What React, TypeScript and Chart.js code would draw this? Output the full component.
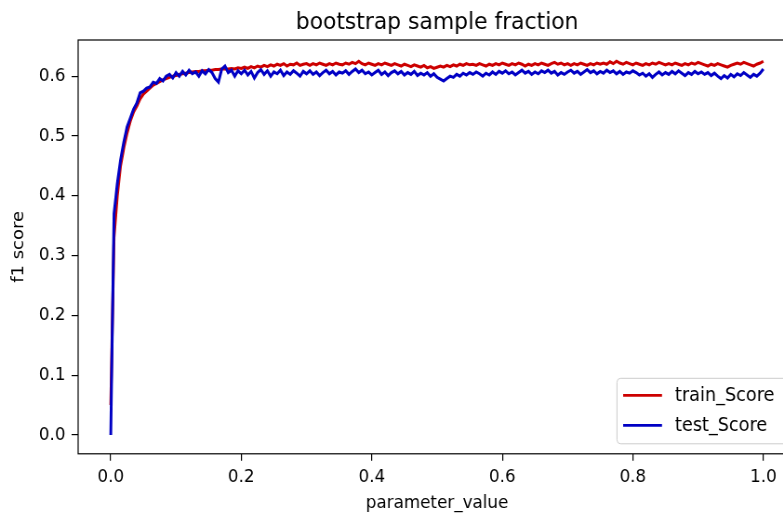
import React, { useEffect, useRef } from "react";
import { Chart, registerables } from "chart.js";

Chart.register(...registerables);

const titleText = "bootstrap sample fraction";
const xLabel = "parameter_value";
const yLabel = "f1 score";
const seriesLabels = ["train_Score", "test_Score"];
const seriesColors = ["#cc0000", "#0000c4"];
const xTicks = [0, 0.2, 0.4, 0.6, 0.8, 1.0];
const yTicks = [0, 0.1, 0.2, 0.3, 0.4, 0.5, 0.6];

const xValues = [
  0, 0.005, 0.01, 0.015, 0.02, 0.025, 0.03, 0.035, 0.04, 0.045,
  0.05, 0.055, 0.06, 0.065, 0.07, 0.075, 0.08, 0.085, 0.09, 0.095,
  0.1, 0.105, 0.11, 0.115, 0.12, 0.125, 0.13, 0.135, 0.14, 0.145,
  0.15, 0.155, 0.16, 0.165, 0.17, 0.175, 0.18, 0.185, 0.19, 0.195,
  0.2, 0.205, 0.21, 0.215, 0.22, 0.225, 0.23, 0.235, 0.24, 0.245,
  0.25, 0.255, 0.26, 0.265, 0.27, 0.275, 0.28, 0.285, 0.29, 0.295,
  0.3, 0.305, 0.31, 0.315, 0.32, 0.325, 0.33, 0.335, 0.34, 0.345,
  0.35, 0.355, 0.36, 0.365, 0.37, 0.375, 0.38, 0.385, 0.39, 0.395,
  0.4, 0.405, 0.41, 0.415, 0.42, 0.425, 0.43, 0.435, 0.44, 0.445,
  0.45, 0.455, 0.46, 0.465, 0.47, 0.475, 0.48, 0.485, 0.49, 0.495,
  0.5, 0.505, 0.51, 0.515, 0.52, 0.525, 0.53, 0.535, 0.54, 0.545,
  0.55, 0.555, 0.56, 0.565, 0.57, 0.575, 0.58, 0.585, 0.59, 0.595,
  0.6, 0.605, 0.61, 0.615, 0.62, 0.625, 0.63, 0.635, 0.64, 0.645,
  0.65, 0.655, 0.66, 0.665, 0.67, 0.675, 0.68, 0.685, 0.69, 0.695,
  0.7, 0.705, 0.71, 0.715, 0.72, 0.725, 0.73, 0.735, 0.74, 0.745,
  0.75, 0.755, 0.76, 0.765, 0.77, 0.775, 0.78, 0.785, 0.79, 0.795,
  0.8, 0.805, 0.81, 0.815, 0.82, 0.825, 0.83, 0.835, 0.84, 0.845,
  0.85, 0.855, 0.86, 0.865, 0.87, 0.875, 0.88, 0.885, 0.89, 0.895,
  0.9, 0.905, 0.91, 0.915, 0.92, 0.925, 0.93, 0.935, 0.94, 0.945,
  0.95, 0.955, 0.96, 0.965, 0.97, 0.975, 0.98, 0.985, 0.99, 0.995,
  1.0,
];

const trainScore = [
  0.05, 0.33, 0.40, 0.45, 0.48, 0.505, 0.525, 0.54, 0.55, 0.562,
  0.57, 0.575, 0.58, 0.585, 0.588, 0.591, 0.594, 0.596, 0.598, 0.60,
  0.601, 0.603, 0.604, 0.605, 0.606, 0.607, 0.608, 0.608, 0.609, 0.609,
  0.610, 0.610, 0.611, 0.611, 0.612, 0.612, 0.612, 0.613, 0.612, 0.614,
  0.613,
  0.615, 0.613, 0.616, 0.614, 0.617, 0.615, 0.618, 0.616, 0.619, 0.617,
  0.620, 0.618, 0.621, 0.617, 0.620, 0.619, 0.622, 0.618, 0.620, 0.621,
  0.618, 0.621, 0.619, 0.622, 0.620, 0.618, 0.621, 0.619, 0.622, 0.620,
  0.619, 0.622, 0.620, 0.623, 0.621, 0.625, 0.621, 0.619, 0.622, 0.620,
  0.618, 0.621, 0.619, 0.622, 0.620, 0.618, 0.621, 0.619, 0.617, 0.620,
  0.618, 0.616, 0.619, 0.617, 0.615, 0.618, 0.614, 0.616, 0.613, 0.615,
  0.617, 0.615, 0.618, 0.616, 0.619, 0.617, 0.620, 0.618, 0.621, 0.619,
  0.620, 0.618, 0.621, 0.619, 0.617, 0.620, 0.618, 0.621, 0.619, 0.622,
  0.620, 0.618, 0.621, 0.619, 0.622, 0.620, 0.617, 0.620, 0.618, 0.621,
  0.619, 0.622, 0.620, 0.618, 0.621, 0.623, 0.620, 0.622, 0.619, 0.621,
  0.618, 0.621, 0.619, 0.622, 0.620, 0.618, 0.621, 0.619, 0.622, 0.620,
  0.622, 0.620, 0.624, 0.621, 0.625, 0.622, 0.620, 0.623, 0.621, 0.619,
  0.622, 0.620, 0.618, 0.621, 0.619, 0.622, 0.620, 0.623, 0.621, 0.619,
  0.621, 0.619, 0.622, 0.620, 0.618, 0.621, 0.619, 0.622, 0.620, 0.623,
  0.621, 0.619, 0.617, 0.620, 0.618, 0.621, 0.619, 0.617, 0.615, 0.618,
  0.620, 0.622, 0.620, 0.623, 0.621, 0.619, 0.617, 0.620, 0.622, 0.625,
];

const testScore = [
  0.00, 0.37, 0.42, 0.46, 0.49, 0.515, 0.53, 0.545, 0.555, 0.572,
  0.575, 0.58, 0.582, 0.59, 0.588, 0.596, 0.592, 0.60, 0.603, 0.597,
  0.606, 0.60, 0.608, 0.602, 0.61, 0.604, 0.607, 0.60, 0.609, 0.604,
  0.611, 0.606, 0.596, 0.59, 0.612, 0.617, 0.606, 0.61, 0.60, 0.609,
  0.604,
  0.610, 0.602, 0.608, 0.597, 0.606, 0.611, 0.603, 0.609, 0.600, 0.607,
  0.604, 0.610, 0.601, 0.607, 0.603, 0.609, 0.605, 0.600, 0.608, 0.604,
  0.609, 0.603, 0.607, 0.601, 0.606, 0.610, 0.604, 0.608, 0.602, 0.607,
  0.605, 0.609, 0.603, 0.608, 0.612, 0.606, 0.610, 0.604, 0.607, 0.602,
  0.606, 0.610, 0.603, 0.607, 0.601, 0.606, 0.609, 0.604, 0.608, 0.602,
  0.606, 0.603, 0.608, 0.601, 0.605, 0.602, 0.606, 0.600, 0.604, 0.598,
  0.595, 0.592, 0.596, 0.600, 0.598, 0.603, 0.600, 0.605, 0.602, 0.606,
  0.603, 0.607, 0.604, 0.600, 0.605, 0.602, 0.607, 0.603, 0.608, 0.605,
  0.609, 0.604, 0.607, 0.602, 0.606, 0.610, 0.605, 0.608, 0.603, 0.607,
  0.604, 0.609, 0.606, 0.610, 0.605, 0.608, 0.602, 0.606, 0.603, 0.607,
  0.610, 0.605, 0.608, 0.603, 0.607, 0.611, 0.606, 0.609, 0.604, 0.608,
  0.605, 0.610, 0.606, 0.609, 0.604, 0.608, 0.603, 0.607, 0.605, 0.609,
  0.606, 0.602, 0.605, 0.600, 0.604, 0.598, 0.603, 0.607, 0.602, 0.606,
  0.603, 0.608, 0.604, 0.609, 0.605, 0.601, 0.606, 0.603, 0.608, 0.604,
  0.607, 0.603, 0.606, 0.601, 0.605, 0.600, 0.596, 0.601, 0.597, 0.603,
  0.599, 0.604, 0.601, 0.606, 0.602, 0.598, 0.603, 0.600, 0.605, 0.612,
];

const X_MIN = -0.05;
const X_MAX = 1.05;
const Y_MIN = -0.0315;
const Y_MAX = 0.6605;

// Horizontal squeeze of the whole figure, canvas size in canvas units
const SX = 0.93;
const CW = 880;
const CH = 517;
const FONT = "'DejaVu Sans', sans-serif";

export default function App() {
  const ref = useRef<HTMLCanvasElement>(null);

  useEffect(() => {
    if (!ref.current) return;

    const framePlugin = {
      id: "frameBox",
      afterDatasetsDraw(chart: any) {
        const { ctx, chartArea: a } = chart;
        ctx.save();
        ctx.strokeStyle = "#000";
        ctx.lineWidth = 1.2;
        ctx.strokeRect(a.left, a.top, a.right - a.left, a.bottom - a.top);
        ctx.restore();
      },
    };

    const legendPlugin = {
      id: "innerLegend",
      afterDraw(chart: any) {
        const { ctx, chartArea: a } = chart;
        const R = a.right - 9.5;
        const B = a.bottom - 10;
        const L = R - 183;
        const T = B - 65.5;
        ctx.save();
        ctx.beginPath();
        const r = 4;
        ctx.moveTo(L + r, T);
        ctx.lineTo(R - r, T);
        ctx.quadraticCurveTo(R, T, R, T + r);
        ctx.lineTo(R, B - r);
        ctx.quadraticCurveTo(R, B, R - r, B);
        ctx.lineTo(L + r, B);
        ctx.quadraticCurveTo(L, B, L, B - r);
        ctx.lineTo(L, T + r);
        ctx.quadraticCurveTo(L, T, L + r, T);
        ctx.closePath();
        ctx.fillStyle = "rgba(255,255,255,0.8)";
        ctx.fill();
        ctx.strokeStyle = "#cccccc";
        ctx.lineWidth = 1;
        ctx.stroke();
        seriesLabels.forEach((lab, i) => {
          const y = T + 17 + i * 30;
          ctx.beginPath();
          ctx.strokeStyle = seriesColors[i];
          ctx.lineWidth = 2.8;
          ctx.moveTo(L + 6.6, y);
          ctx.lineTo(L + 48.4, y);
          ctx.stroke();
          ctx.fillStyle = "#000";
          ctx.font = `19px ${FONT}`;
          ctx.textBaseline = "middle";
          ctx.textAlign = "left";
          ctx.fillText(lab, L + 62.4, y + 1);
        });
        ctx.restore();
      },
    };

    const chart = new Chart(ref.current, {
      type: "line",
      data: {
        datasets: [
          {
            label: seriesLabels[0],
            data: xValues.map((x, i) => ({ x, y: trainScore[i] })),
            borderColor: seriesColors[0],
            backgroundColor: seriesColors[0],
            borderWidth: 3,
            pointRadius: 0,
            tension: 0,
            fill: false,
            order: 1,
          },
          {
            label: seriesLabels[1],
            data: xValues.map((x, i) => ({ x, y: testScore[i] })),
            borderColor: seriesColors[1],
            backgroundColor: seriesColors[1],
            borderWidth: 3,
            pointRadius: 0,
            tension: 0,
            fill: false,
            order: 0,
          },
        ],
      },
      options: {
        animation: false,
        responsive: true,
        maintainAspectRatio: false,
        layout: { padding: { left: 0, right: 24.1, top: 0, bottom: 0 } },
        plugins: {
          legend: { display: false },
          tooltip: { enabled: false },
          title: {
            display: true,
            text: titleText,
            fullSize: false,
            color: "#000",
            font: { family: FONT, size: 23.5, weight: "normal" },
            padding: { top: 8.8, bottom: 3 },
          },
        },
        scales: {
          x: {
            type: "linear",
            min: X_MIN,
            max: X_MAX,
            afterBuildTicks: (s: any) => {
              s.ticks = xTicks.map((v) => ({ value: v }));
            },
            afterFit: (s: any) => {
              s.height = 63.2;
            },
            grid: {
              display: true,
              drawOnChartArea: false,
              drawTicks: true,
              tickLength: 7,
              color: "#000",
              lineWidth: 1.2,
            },
            border: { display: false },
            ticks: {
              color: "#000",
              font: { family: FONT, size: 18 },
              padding: 5.4,
              maxRotation: 0,
              autoSkip: false,
              callback: (v: any) => Number(v).toFixed(1),
            },
            title: {
              display: true,
              text: xLabel,
              color: "#000",
              font: { family: FONT, size: 18 },
              padding: { top: 0, bottom: 2.4 },
            },
          },
          y: {
            type: "linear",
            min: Y_MIN,
            max: Y_MAX,
            afterBuildTicks: (s: any) => {
              s.ticks = yTicks.map((v) => ({ value: v }));
            },
            afterFit: (s: any) => {
              s.width = 84;
            },
            grid: {
              display: true,
              drawOnChartArea: false,
              drawTicks: true,
              tickLength: 7,
              color: "#000",
              lineWidth: 1.2,
            },
            border: { display: false },
            ticks: {
              color: "#000",
              font: { family: FONT, size: 18 },
              padding: 6.6,
              autoSkip: false,
              callback: (v: any) => Number(v).toFixed(1),
            },
            title: {
              display: true,
              text: yLabel,
              color: "#000",
              font: { family: FONT, size: 18 },
              padding: { top: 9.6, bottom: 0 },
            },
          },
        },
      },
      plugins: [framePlugin, legendPlugin],
    } as any);

    return () => chart.destroy();
  }, []);

  return (
    <div
      style={{
        position: "fixed",
        left: 0,
        top: 0,
        width: 783,
        height: 517,
        overflow: "hidden",
        background: "#fff",
      }}
    >
      <div
        style={{
          position: "relative",
          width: CW,
          height: CH,
          transform: `scaleX(${SX})`,
          transformOrigin: "0 0",
        }}
      >
        <canvas ref={ref} />
      </div>
    </div>
  );
}
